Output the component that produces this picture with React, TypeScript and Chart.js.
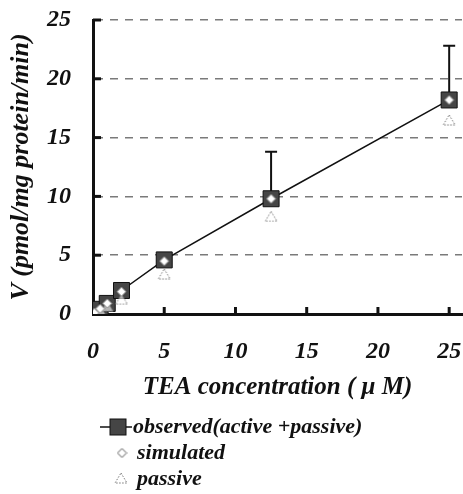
import React, { useEffect, useRef } from "react";
import { Chart, registerables } from "chart.js";

Chart.register(...registerables);

const concentrations = [0.1, 0.5, 1, 2, 5, 12.5, 25];
const observed = [0.1, 0.4, 0.9, 2.0, 4.6, 9.8, 18.2];
const observedErr = [0, 0, 0, 0, 0, 4.0, 4.6];
const simulated = [0.1, 0.45, 0.9, 1.9, 4.5, 9.8, 18.2];
const passive = [0.07, 0.3, 0.65, 1.25, 3.4, 8.3, 16.5];
const xTicks = [0, 5, 10, 15, 20, 25];
const yTicks = [0, 5, 10, 15, 20, 25];
const legendLabels = ["observed(active +passive)", "simulated", "passive"];
const xTitle = "TEA concentration ( μ M)";
const yTitle = "V (pmol/mg protein/min)";

const FAMILY = '"Liberation Serif", "Times New Roman", serif';

function makeDiamond(size: number, fill: string, stroke: string) {
  const c = document.createElement("canvas");
  c.width = size;
  c.height = size;
  const g = c.getContext("2d")!;
  const h = size / 2;
  g.beginPath();
  g.moveTo(h, 1);
  g.lineTo(size - 1, h);
  g.lineTo(h, size - 1);
  g.lineTo(1, h);
  g.closePath();
  g.fillStyle = fill;
  g.fill();
  g.strokeStyle = stroke;
  g.lineWidth = 1;
  g.stroke();
  return c;
}

function makeTriangle(w: number, h: number) {
  const c = document.createElement("canvas");
  c.width = w;
  c.height = h;
  const g = c.getContext("2d")!;
  g.beginPath();
  g.moveTo(w / 2, 1);
  g.lineTo(w - 1, h - 1);
  g.lineTo(1, h - 1);
  g.closePath();
  g.fillStyle = "rgba(255,255,255,0.6)";
  g.fill();
  g.setLineDash([1.5, 1.5]);
  g.strokeStyle = "#777";
  g.lineWidth = 1;
  g.stroke();
  return c;
}

function zeroPadding(s: any) {
  s.paddingLeft = 0;
  s.paddingRight = 0;
  s.paddingTop = 0;
  s.paddingBottom = 0;
}

export default function App() {
  const ref = useRef<HTMLCanvasElement | null>(null);

  useEffect(() => {
    const canvas = ref.current;
    if (!canvas) return;
    const diamondImg = makeDiamond(11, "#ffffff", "#888");
    const legendDiamond = makeDiamond(11, "#ffffff", "#555");
    const triImg = makeTriangle(14, 12);

    const extras = {
      id: "extras",
      beforeDatasetsDraw(chart: any) {
        const { ctx, scales } = chart;
        const xs = scales.x;
        const ys = scales.y;
        ctx.save();
        ctx.strokeStyle = "#111";
        ctx.lineWidth = 2;
        concentrations.forEach((c, i) => {
          const e = observedErr[i];
          if (!e) return;
          const px = xs.getPixelForValue(c);
          const y0 = ys.getPixelForValue(observed[i]);
          const y1 = ys.getPixelForValue(observed[i] + e);
          ctx.beginPath();
          ctx.moveTo(px, y0);
          ctx.lineTo(px, y1);
          ctx.moveTo(px - 6, y1);
          ctx.lineTo(px + 6, y1);
          ctx.stroke();
        });
        ctx.restore();
      },
      afterDraw(chart: any) {
        const { ctx, scales, chartArea } = chart;
        const xs = scales.x;
        const ys = scales.y;
        ctx.save();
        // inward tick marks
        ctx.strokeStyle = "#111";
        ctx.lineWidth = 3;
        yTicks.forEach((v) => {
          if (v === 0) return;
          const py = ys.getPixelForValue(v);
          ctx.beginPath();
          ctx.moveTo(chartArea.left, py);
          ctx.lineTo(chartArea.left + 8, py);
          ctx.stroke();
        });
        xTicks.forEach((v) => {
          if (v === 0) return;
          const px = xs.getPixelForValue(v);
          ctx.beginPath();
          ctx.moveTo(px, chartArea.bottom);
          ctx.lineTo(px, chartArea.bottom - 7);
          ctx.stroke();
        });

        // legend
        ctx.font = `italic bold 22px ${FAMILY}`;
        ctx.textBaseline = "middle";
        ctx.textAlign = "left";
        const r1 = 427;
        const r2 = 453;
        const r3 = 479;
        ctx.strokeStyle = "#111";
        ctx.lineWidth = 1.5;
        ctx.beginPath();
        ctx.moveTo(100, r1);
        ctx.lineTo(132, r1);
        ctx.stroke();
        ctx.fillStyle = "#454545";
        ctx.fillRect(110, r1 - 8, 16, 16);
        ctx.lineWidth = 1;
        ctx.strokeRect(110, r1 - 8, 16, 16);
        ctx.drawImage(legendDiamond, 122 - 5.5, r2 - 5.5);
        ctx.drawImage(triImg, 121 - 7, r3 - 7);
        ctx.fillStyle = "#111";
        ctx.fillText(legendLabels[0], 133, r1);
        ctx.fillText(legendLabels[1], 137, r2);
        ctx.fillText(legendLabels[2], 137, r3);
        ctx.restore();
      },
    };

    const tickFont = { family: FAMILY, size: 24, weight: "bold" as const, style: "italic" as const };
    const xTitleFont = { family: FAMILY, size: 25, weight: "bold" as const, style: "italic" as const };
    const yTitleFont = { family: FAMILY, size: 26, weight: "bold" as const, style: "italic" as const };

    const chart = new Chart(canvas, {
      type: "line",
      data: {
        datasets: [
          {
            label: legendLabels[1],
            data: concentrations.map((x, i) => ({ x, y: simulated[i] })),
            showLine: false,
            pointStyle: diamondImg as any,
            order: 1,
          },
          {
            label: legendLabels[2],
            data: concentrations.map((x, i) => ({ x, y: passive[i] })),
            showLine: false,
            pointStyle: triImg as any,
            order: 2,
          },
          {
            label: legendLabels[0],
            data: concentrations.map((x, i) => ({ x, y: observed[i] })),
            borderColor: "#111",
            borderWidth: 1.5,
            tension: 0,
            pointStyle: "rect",
            pointRadius: 11.3,
            pointBackgroundColor: "#454545",
            pointBorderColor: "#111",
            pointBorderWidth: 1,
            order: 3,
          },
        ],
      },
      options: {
        animation: false,
        responsive: false,
        layout: { autoPadding: false, padding: { left: 0, top: 20, right: 1, bottom: 0 } },
        plugins: { legend: { display: false }, tooltip: { enabled: false } },
        scales: {
          x: {
            type: "linear",
            min: 0,
            max: 25.9,
            afterFit: (s: any) => {
              s.height = 180;
              zeroPadding(s);
            },
            afterBuildTicks: (s: any) => {
              s.ticks = xTicks.map((v) => ({ value: v }));
            },
            grid: { display: false, drawTicks: false },
            border: { display: true, color: "#111", width: 3 },
            ticks: {
              padding: 23,
              color: "#111",
              font: tickFont,
              maxRotation: 0,
              autoSkip: false,
            },
            title: {
              display: true,
              text: xTitle,
              color: "#111",
              font: xTitleFont,
              padding: { top: 0, bottom: 91 },
            },
          },
          y: {
            type: "linear",
            min: 0,
            max: 25,
            afterFit: (s: any) => {
              s.width = 93;
              zeroPadding(s);
            },
            afterBuildTicks: (s: any) => {
              s.ticks = yTicks.map((v) => ({ value: v }));
            },
            grid: {
              drawTicks: false,
              color: (c: any) => (c.tick && c.tick.value === 0 ? "rgba(0,0,0,0)" : "#7a7a7a"),
              lineWidth: 1.5,
            },
            border: { display: true, color: "#111", width: 3, dash: [8, 7] },
            ticks: {
              padding: 22,
              color: "#111",
              font: tickFont,
              autoSkip: false,
            },
            title: {
              display: true,
              text: yTitle,
              color: "#111",
              font: yTitleFont,
              padding: { top: 6, bottom: 0 },
            },
          },
        },
      },
      plugins: [extras],
    });
    return () => chart.destroy();
  }, []);

  return (
    <div style={{ position: "absolute", left: 0, top: 0, width: 463, height: 494, background: "#fff" }}>
      <canvas ref={ref} width={463} height={494} style={{ display: "block" }} />
    </div>
  );
}
